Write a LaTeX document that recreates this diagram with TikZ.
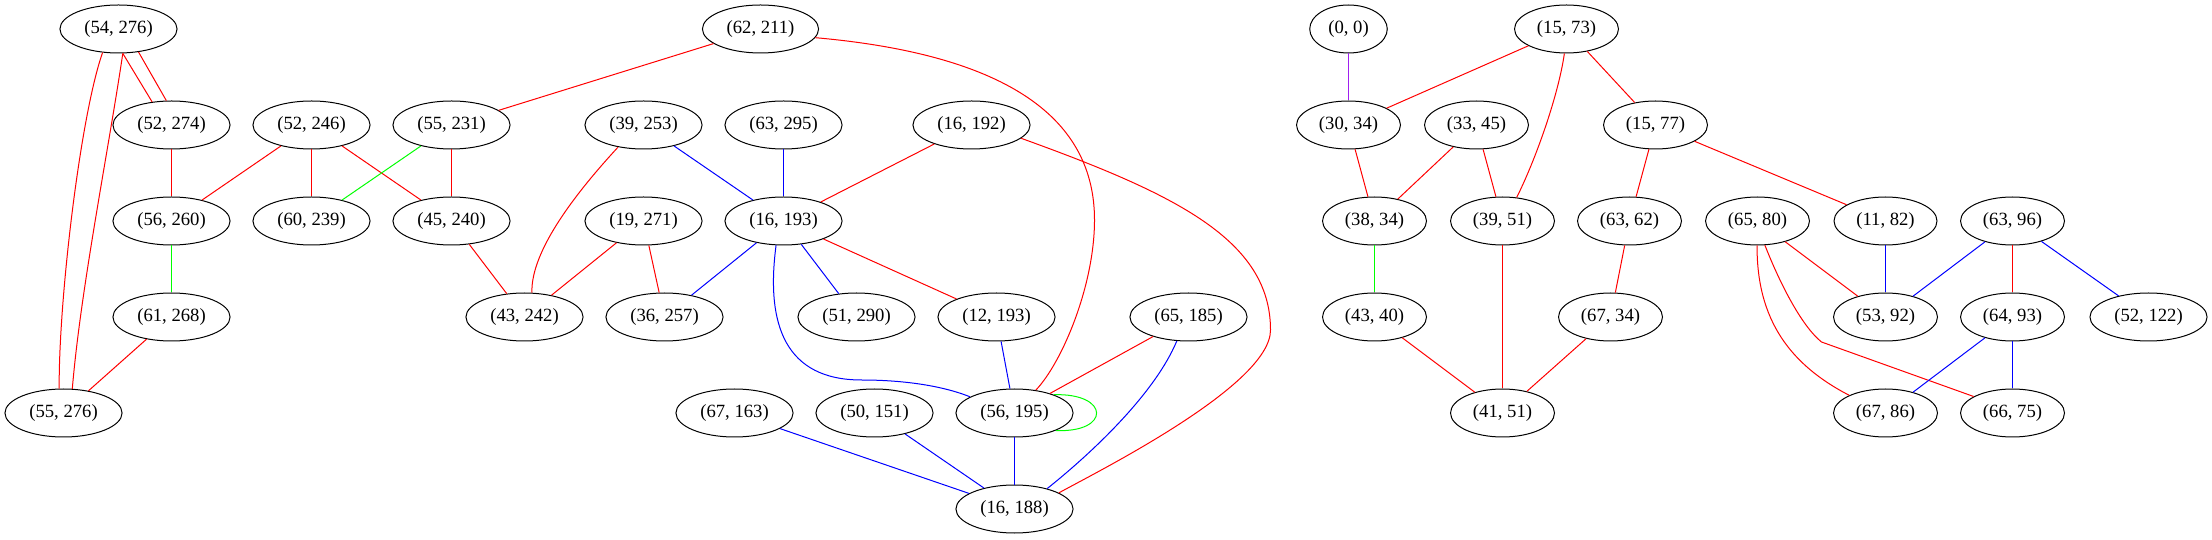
\documentclass[tikz,border=0pt]{standalone}
\usepackage{fontspec}
\setmainfont{Liberation Serif}
\usetikzlibrary{shapes.geometric}
\definecolor{gvred}{RGB}{255,0,0}
\definecolor{gvblue}{RGB}{0,0,255}
\definecolor{gvgreen}{RGB}{0,255,0}
\definecolor{gvpurple}{RGB}{160,32,240}

\begin{document}
\begin{tikzpicture}[x=0.75pt,y=0.75pt,
  vtx/.style={draw,ellipse,line width=0.75pt,minimum height=36pt,inner xsep=5.4pt,inner ysep=2pt,font=\fontsize{14}{16}\selectfont},
  rd/.style={line width=0.75pt,gvred},
  bl/.style={line width=0.75pt,gvblue},
  gr/.style={line width=0.75pt,gvgreen}]
\useasboundingbox (0,0) rectangle (2212,539);
\begin{scope}[xshift=0.375pt]
\node[vtx] (P54x276) at (118,510) {(54, 276)};
\node[vtx] (P62x211) at (760,510) {(62, 211)};
\node[vtx] (P0x0) at (1348,510) {(0, 0)};
\node[vtx] (P15x73) at (1566,510) {(15, 73)};

\node[vtx] (P52x274) at (171,414) {(52, 274)};
\node[vtx] (P52x246) at (311,414) {(52, 246)};
\node[vtx] (P55x231) at (451,414) {(55, 231)};
\node[vtx] (P39x253) at (643,414) {(39, 253)};
\node[vtx] (P63x295) at (783,414) {(63, 295)};
\node[vtx] (P16x192) at (971,414) {(16, 192)};
\node[vtx] (P30x34) at (1348,414) {(30, 34)};
\node[vtx] (P33x45) at (1476,414) {(33, 45)};
\node[vtx] (P15x77) at (1655,414) {(15, 77)};

\node[vtx] (P56x260) at (171,318) {(56, 260)};
\node[vtx] (P60x239) at (311,318) {(60, 239)};
\node[vtx] (P45x240) at (451,318) {(45, 240)};
\node[vtx] (P19x271) at (643,318) {(19, 271)};
\node[vtx] (P16x193) at (783,318) {(16, 193)};
\node[vtx] (P38x34) at (1374,318) {(38, 34)};
\node[vtx] (P39x51) at (1502,318) {(39, 51)};
\node[vtx] (P63x62) at (1629,318) {(63, 62)};
\node[vtx] (P65x80) at (1757,318) {(65, 80)};
\node[vtx] (P11x82) at (1885,318) {(11, 82)};
\node[vtx] (P63x96) at (2012,318) {(63, 96)};

\node[vtx] (P61x268) at (171,222) {(61, 268)};
\node[vtx] (P43x242) at (524,222) {(43, 242)};
\node[vtx] (P36x257) at (664,222) {(36, 257)};
\node[vtx] (P51x290) at (856,222) {(51, 290)};
\node[vtx] (P12x193) at (996,222) {(12, 193)};
\node[vtx] (P65x185) at (1188,222) {(65, 185)};
\node[vtx] (P43x40) at (1374,222) {(43, 40)};
\node[vtx] (P67x34) at (1610,222) {(67, 34)};
\node[vtx] (P53x92) at (1885,222) {(53, 92)};
\node[vtx] (P64x93) at (2012,222) {(64, 93)};
\node[vtx] (P52x122) at (2148,222) {(52, 122)};

\node[vtx] (P55x276) at (63,126) {(55, 276)};
\node[vtx] (P67x163) at (734,126) {(67, 163)};
\node[vtx] (P50x151) at (874,126) {(50, 151)};
\node[vtx] (P56x195) at (1014,126) {(56, 195)};
\node[vtx] (P41x51) at (1502,126) {(41, 51)};
\node[vtx] (P67x86) at (1885,126) {(67, 86)};
\node[vtx] (P66x75) at (2012,126) {(66, 75)};

\node[vtx] (P16x188) at (1014,30) {(16, 188)};

\draw[rd] (P54x276.280) -- (P52x274.130);
\draw[rd] (P54x276.311) -- (P52x274.102);
\draw[rd] (P54x276.236) .. controls (80,424) and (58,239) .. (P55x276.100);
\draw[rd] (P54x276.280) .. controls (108,389) and (80,249) .. (P55x276.70);
\draw[rd] (P52x274) -- (P56x260);
\draw[rd] (P52x246) -- (P56x260);
\draw[rd] (P52x246) -- (P60x239);
\draw[rd] (P52x246) -- (P45x240);
\draw[gr] (P55x231) -- (P60x239);
\draw[rd] (P55x231) -- (P45x240);
\draw[gr] (P56x260) -- (P61x268);
\draw[rd] (P61x268) -- (P55x276);
\draw[rd] (P45x240) -- (P43x242);
\draw[rd] (P62x211) -- (P55x231);
\draw[rd] (P62x211.-9) .. controls (1010,484) and (1094,419) .. (1094,319)
  .. controls (1094,254) and (1062,177) .. (P56x195.47);
\draw[rd] (P39x253.221) .. controls (578,349) and (530,289) .. (P43x242.73);
\draw[bl] (P39x253) -- (P16x193);
\draw[bl] (P63x295) -- (P16x193);
\draw[rd] (P16x192) -- (P16x193);
\draw[rd] (P16x192.-15) .. controls (1175,345) and (1270,299) .. (1270,209)
  .. controls (1270,154) and (1100,69) .. (P16x188.20);
\draw[rd] (P19x271) -- (P43x242);
\draw[rd] (P19x271) -- (P36x257);
\draw[bl] (P16x193) -- (P36x257);
\draw[bl] (P16x193) -- (P51x290);
\draw[rd] (P16x193) -- (P12x193);
\draw[bl] (P16x193.253) .. controls (765,214) and (785,159) .. (861,159)
  .. controls (900,159) and (940,154) .. (P56x195.160);
\draw[bl] (P12x193) -- (P56x195);
\draw[rd] (P65x185) -- (P56x195);
\draw[bl] (P65x185.244) .. controls (1155,147) and (1095,89) .. (P16x188.32);
\draw[gr] (P56x195.25) .. controls (1110,146) and (1110,106) .. (P56x195.-23);
\draw[bl] (P56x195) -- (P16x188);
\draw[bl] (P67x163) -- (P16x188);
\draw[bl] (P50x151) -- (P16x188);

\draw[line width=0.75pt,gvpurple] (P0x0) -- (P30x34);
\draw[rd] (P15x73) -- (P30x34);
\draw[rd] (P15x73.265) .. controls (1558,444) and (1535,379) .. (P39x51.59);
\draw[rd] (P15x73) -- (P15x77);
\draw[rd] (P30x34) -- (P38x34);
\draw[rd] (P33x45) -- (P38x34);
\draw[rd] (P33x45) -- (P39x51);
\draw[rd] (P15x77) -- (P63x62);
\draw[rd] (P15x77) -- (P11x82);
\draw[gr] (P38x34) -- (P43x40);
\draw[rd] (P39x51) -- (P41x51);
\draw[rd] (P63x62) -- (P67x34);
\draw[rd] (P43x40) -- (P41x51);
\draw[rd] (P67x34) -- (P41x51);
\draw[rd] (P65x80) -- (P53x92);
\draw[rd] (P65x80.269) .. controls (1756,219) and (1790,174) .. (P67x86.154);
\coordinate (K80) at (1821,197);
\draw[rd] (P65x80.287) .. controls (1778,259) and (1800,214) .. (K80) -- (P66x75.157);
\draw[bl] (P11x82) -- (P53x92);
\draw[bl] (P63x96) -- (P53x92);
\draw[rd] (P63x96) -- (P64x93);
\draw[bl] (P63x96) -- (P52x122);
\draw[bl] (P64x93) -- (P67x86);
\draw[bl] (P64x93) -- (P66x75);
\end{scope}
\end{tikzpicture}
\end{document}
